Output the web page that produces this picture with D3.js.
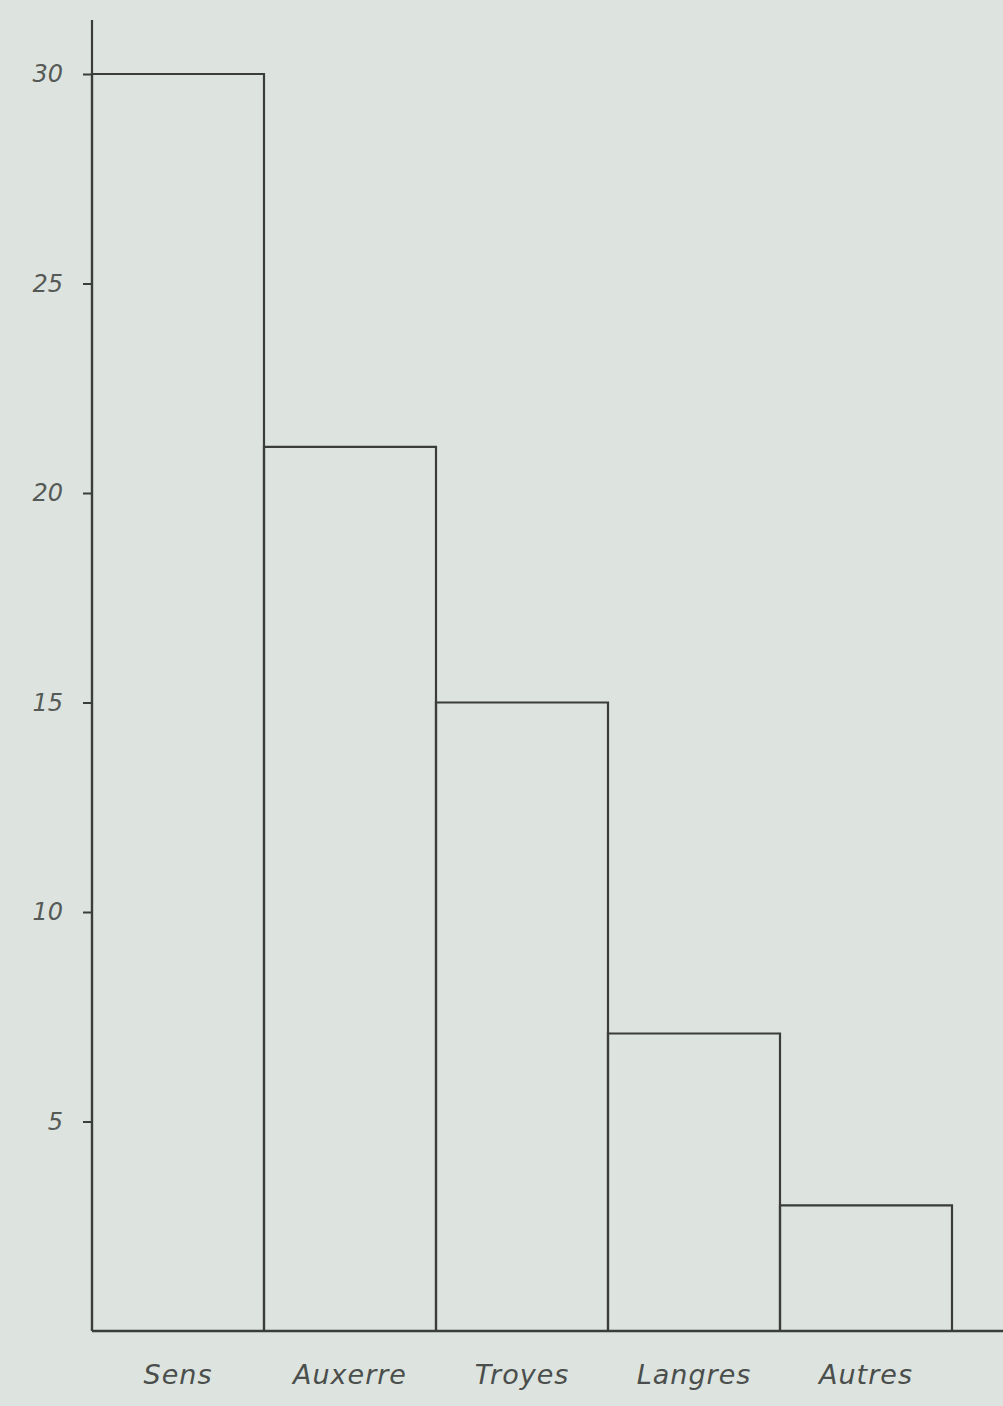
<!DOCTYPE html>
<html>
<head>
<meta charset="utf-8">
<script src="https://cdn.jsdelivr.net/npm/d3@7"></script>
<style>
  html, body { margin: 0; padding: 0; background: #dde3de; }
  svg { display: block; }
</style>
</head>
<body>
<svg id="chart" width="1003" height="1406"></svg>
<script>
const categories = ["Sens", "Auxerre", "Troyes", "Langres", "Autres"];
const values = [30, 21.1, 15.0, 7.1, 3.0];
const tickValues = [5, 10, 15, 20, 25, 30];

const W = 1003, H = 1406;
const svg = d3.select("#chart");
svg.append("rect").attr("width", W).attr("height", H).attr("fill", "#dde3de");

const x0 = 92, x1 = 952, yBase = 1331, yTop = 74;
const x = d3.scaleBand().domain(categories).range([x0, x1]).padding(0);
const y = d3.scaleLinear().domain([0, 30]).range([yBase, yTop]);

const ink = "#3a3d3b";

// bars
svg.append("g").selectAll("path")
  .data(categories.map((c, i) => ({c, v: values[i]})))
  .join("path")
  .attr("d", d => {
    const l = x(d.c), r = x(d.c) + x.bandwidth(), t = y(d.v);
    return `M${l},${yBase}V${t}H${r}V${yBase}`;
  })
  .attr("fill", "none")
  .attr("stroke", ink)
  .attr("stroke-width", 2.2);

// y axis
const yAxis = d3.axisLeft(y).tickValues(tickValues).tickSize(9).tickPadding(20).tickFormat(d3.format("d"));
const gy = svg.append("g").attr("transform", `translate(${x0},0)`).call(yAxis);
gy.select(".domain").remove();
gy.selectAll(".tick line").attr("stroke", ink).attr("stroke-width", 2);
gy.selectAll(".tick text")
  .attr("fill", "#555a57")
  .style("font-family", "'DejaVu Sans', sans-serif")
  .style("font-size", "24px")
  .style("font-style", "italic")
  .style("font-weight", "300");
svg.append("line").attr("x1", x0).attr("x2", x0).attr("y1", 20).attr("y2", yBase)
  .attr("stroke", ink).attr("stroke-width", 2.2);

// x axis
const xAxis = d3.axisBottom(x).tickSize(0).tickPadding(34);
const gx = svg.append("g").attr("transform", `translate(0,${yBase})`).call(xAxis);
gx.select(".domain").remove();
gx.selectAll(".tick text")
  .attr("fill", "#4a4e4c")
  .style("font-family", "'DejaVu Sans', sans-serif")
  .style("font-size", "27px")
  .style("font-style", "italic")
  .style("letter-spacing", "1px");
svg.append("line").attr("x1", x0).attr("x2", W).attr("y1", yBase).attr("y2", yBase)
  .attr("stroke", ink).attr("stroke-width", 2.4);
</script>
</body>
</html>
